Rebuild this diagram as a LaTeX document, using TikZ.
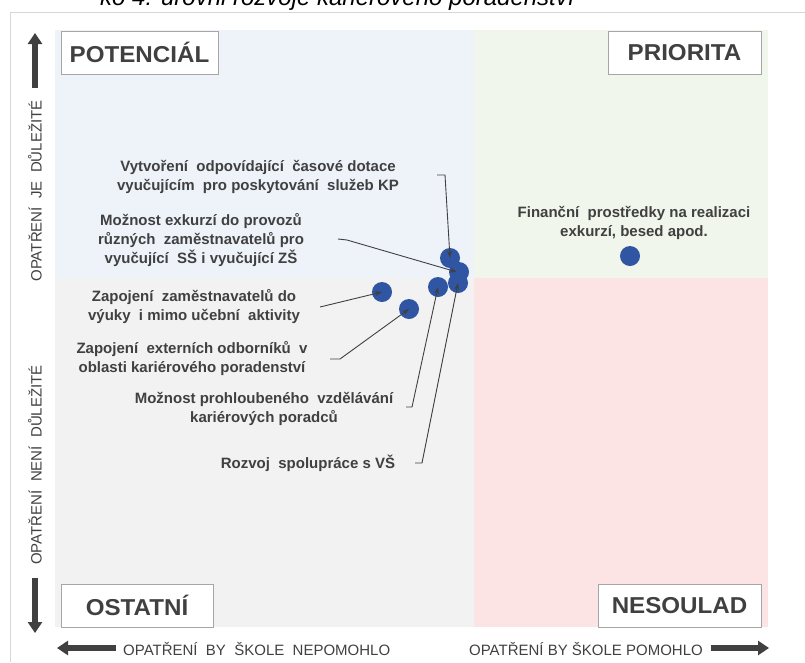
\documentclass[tikz,border=0pt]{standalone}
\usepackage{fontspec}
\setmainfont{Liberation Sans}
\newfontfamily\boxfont[FakeStretch=1.05]{Liberation Sans}
\usetikzlibrary{arrows.meta}
\definecolor{blueq}{RGB}{238,243,250}
\definecolor{greenq}{RGB}{240,246,236}
\definecolor{grayq}{RGB}{242,242,242}
\definecolor{pinkq}{RGB}{253,228,228}
\definecolor{dotc}{RGB}{47,85,163}
\definecolor{textc}{RGB}{64,64,64}
\definecolor{boxc}{RGB}{166,166,166}
\definecolor{framec}{RGB}{215,215,215}
\tikzset{
  quadbox/.style={draw=boxc,line width=1pt,fill=white,inner sep=0pt,minimum height=43pt,
    font=\boxfont\fontsize{23}{26}\selectfont\bfseries,text=textc},
  lbl/.style={align=center,text=textc,font=\fontsize{15}{19}\selectfont\bfseries,inner sep=0pt},
  axlbl/.style={text=textc,font=\fontsize{15}{17}\selectfont,inner sep=0pt},
  dotst/.style={circle,fill=dotc,minimum size=20pt,inner sep=0pt},
  leader/.style={draw=textc,line width=0.9pt,-{Stealth[length=7pt,width=5pt]}},
  axarrow/.style={draw=textc,line width=6pt,-{Triangle[length=11pt,width=14pt]}}
}
\begin{document}
\begin{tikzpicture}[x=1pt,y=-1pt]
\useasboundingbox (0,0) rectangle (805,662);
\clip (0,0) rectangle (805,662);
% caption (cut off at top)
\node[anchor=base west,inner sep=0pt,font=\fontsize{24}{27}\selectfont\itshape,text=black] (cap) at (100,5) {ko 4: úrovni rozvoje kariérového poradenství};
% frame
\draw[framec,line width=1pt] (10,662) -- (10,12) -- (805,12);
% quadrants
\fill[blueq] (55,30) rectangle (474,278);
\fill[greenq] (474,30) rectangle (768,278);
\fill[grayq] (55,278) rectangle (474,627);
\fill[pinkq] (474,278) rectangle (768,627);
% corner boxes
\node[quadbox,minimum width=157pt] (pot) at (139.5,52.5) {POTENCIÁL};
\node[quadbox,minimum width=153pt] (pri) at (684.5,52.5) {PRIORITA};
\node[quadbox,minimum width=152pt] (ost) at (137,605.5) {OSTATNÍ};
\node[quadbox,minimum width=163pt] (nes) at (679.5,605.5) {NESOULAD};
% axis arrows
\coordinate (upS) at (35,88);
\coordinate (upE) at (35,33);
\coordinate (dnS) at (35,578);
\coordinate (dnE) at (35,633);
\coordinate (lfS) at (116,648);
\coordinate (lfE) at (57,648);
\coordinate (rtS) at (711,648);
\coordinate (rtE) at (769,648);
\draw[axarrow] (upS) -- (upE);
\draw[axarrow] (dnS) -- (dnE);
\draw[axarrow] (lfS) -- (lfE);
\draw[axarrow] (rtS) -- (rtE);
% axis labels
\node[axlbl,rotate=90] (yl1) at (35,191) {OPATŘENÍ\ \ JE\ \ DŮLEŽITÉ};
\node[axlbl,rotate=90] (yl2) at (35,465) {OPATŘENÍ\ \ NENÍ\ \ DŮLEŽITÉ};
\node[axlbl,anchor=west] (xl1) at (123,649) {OPATŘENÍ\ \ BY\ \ ŠKOLE\ \ NEPOMOHLO};
\node[axlbl,anchor=east] (xl2) at (703,649) {OPATŘENÍ\ BY\ ŠKOLE\ POMOHLO};
% dots
\node[dotst] (d1) at (450,258) {};
\node[dotst] (d2) at (459,272) {};
\node[dotst] (d6) at (458,283) {};
\node[dotst] (d5) at (438,287) {};
\node[dotst] (d3) at (382,292) {};
\node[dotst] (d4) at (409,309) {};
\node[dotst] (d7) at (630,256) {};
% labels
\node[lbl] (t1) at (258,177) {Vytvoření\ \ odpovídající\ \ časové dotace\\vyučujícím\ \ pro poskytování\ \ služeb KP};
\node[lbl] (t2) at (201,240) {Možnost exkurzí do provozů\\různých\ \ zaměstnavatelů pro\\vyučující\ \ SŠ i vyučující ZŠ};
\node[lbl] (t3) at (194,307) {Zapojení\ \ zaměstnavatelů do\\výuky\ \ i\ mimo učební\ \ aktivity};
\node[lbl] (t4) at (192,359) {Zapojení\ \ externích odborníků\ \ v\\oblasti kariérového poradenství};
\node[lbl] (t5) at (264,409) {Možnost prohloubeného\ \ vzdělávání\\kariérových poradců};
\node[lbl] (t6) at (308,463) {Rozvoj\ \ spolupráce s VŠ};
\node[lbl] (t7) at (634,223) {Finanční\ \ prostředky na realizaci\\exkurzí, besed apod.};
% leaders
\coordinate (l1a) at (437,175);
\coordinate (l1b) at (445,175);
\coordinate (l2a) at (338,239);
\coordinate (l2b) at (347,240);
\coordinate (l3a) at (320,307);
\coordinate (l4a) at (330,359);
\coordinate (l4b) at (340,359);
\coordinate (l5a) at (406,407);
\coordinate (l5b) at (412,407);
\coordinate (l6a) at (415,463);
\coordinate (l6b) at (422,463);
\draw[leader] (l1a) -- (l1b) -- (d1.center);
\draw[leader] (l2a) -- (l2b) -- ([xshift=-2pt]d2.center);
\draw[leader] (l3a) -- (d3.center);
\draw[leader] (l4a) -- (l4b) -- (d4.center);
\draw[leader] (l5a) -- (l5b) -- (d5.center);
\draw[leader] (l6a) -- (l6b) -- (d6.center);
\end{tikzpicture}
\end{document}
